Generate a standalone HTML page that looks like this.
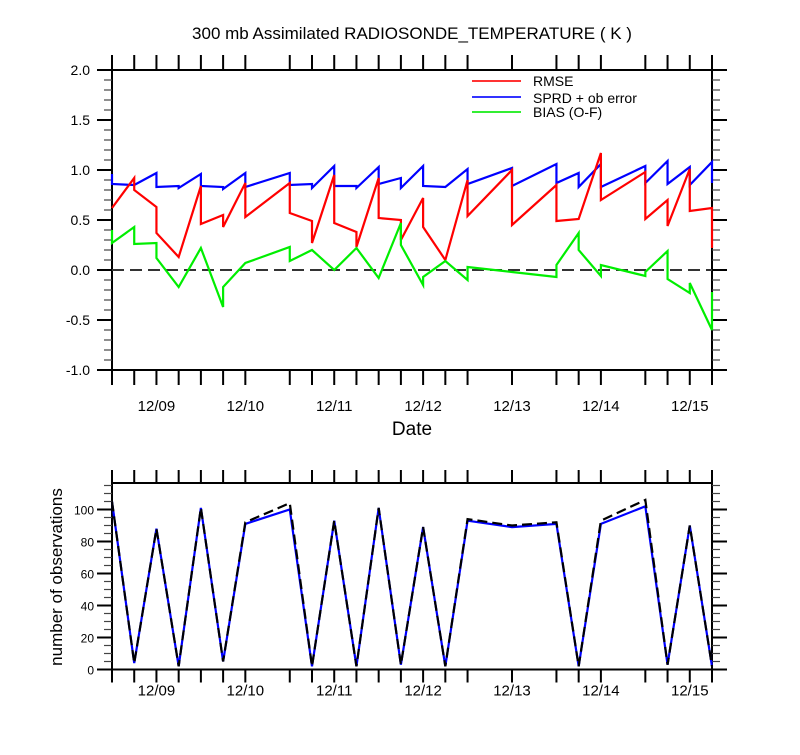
<!DOCTYPE html>
<html><head><meta charset="utf-8"><style>
body{margin:0;background:#fff}
svg text{font-family:"Liberation Sans",Arial,sans-serif;fill:#000}
</style></head><body>
<svg id="s" width="800" height="750" xmlns="http://www.w3.org/2000/svg">
<text x="412" y="39" font-size="17" text-anchor="middle">300 mb Assimilated RADIOSONDE_TEMPERATURE ( K )</text>
<text x="412" y="435" font-size="19" text-anchor="middle">Date</text>
<text transform="translate(62,577) rotate(-90)" font-size="17" text-anchor="middle">number of observations</text>
<g>
<line x1="472" y1="81" x2="521" y2="81" stroke="#f33" stroke-width="2"/><text x="533" y="86" font-size="14">RMSE</text>
<line x1="472" y1="97" x2="521" y2="97" stroke="#33f" stroke-width="2"/><text x="533" y="103" font-size="14">SPRD + ob error</text>
<line x1="472" y1="112" x2="521" y2="112" stroke="#3e3" stroke-width="2"/><text x="533" y="117" font-size="14">BIAS (O-F)</text>
</g>
</svg>
<script>
// hours since 12/08 00Z; duplicated times mark vertical jumps
const rmseT=[12,18,18,24,24,30,36,36,42,42,48,48,60,60,66,66,72,72,78,78,84,84,90,90,96,96,102,108,108,120,120,132,132,138,144,144,156,156,162,162,168,168,174,174];
const rmseV=[0.62,0.92,0.8,0.63,0.37,0.13,0.84,0.46,0.55,0.43,0.87,0.53,0.87,0.57,0.49,0.27,0.95,0.47,0.38,0.23,0.92,0.52,0.5,0.3,0.72,0.43,0.1,0.9,0.54,1.0,0.45,0.85,0.49,0.51,1.17,0.7,0.98,0.51,0.7,0.44,1.01,0.59,0.62,0.22];
const sprdT=[12,12,18,24,24,30,30,36,36,42,42,48,48,60,60,66,66,72,72,78,78,84,84,90,90,96,96,102,108,108,120,120,132,132,138,138,144,144,156,156,162,162,168,168,174,174];
const sprdV=[0.96,0.86,0.85,0.97,0.83,0.84,0.82,0.96,0.84,0.83,0.81,0.97,0.83,0.97,0.85,0.86,0.82,1.04,0.84,0.84,0.82,1.03,0.86,0.92,0.82,1.04,0.84,0.83,1.01,0.86,1.02,0.84,1.06,0.87,0.97,0.83,1.06,0.83,1.04,0.87,1.09,0.86,1.03,0.85,1.08,0.87];
const biasT=[12,12,18,18,24,24,30,36,42,42,48,60,60,66,72,78,84,90,90,96,96,102,108,108,120,132,132,138,138,144,144,156,156,162,162,168,168,174,174];
const biasV=[0.4,0.27,0.43,0.26,0.27,0.12,-0.17,0.22,-0.37,-0.17,0.07,0.23,0.09,0.2,0.0,0.22,-0.08,0.47,0.25,-0.15,-0.07,0.09,-0.1,0.03,-0.02,-0.07,0.05,0.37,0.2,-0.06,0.05,-0.06,-0.02,0.19,-0.09,-0.23,-0.13,-0.6,-0.22];
const obsT=[12,18,24,30,36,42,48,60,66,72,78,84,90,96,102,108,120,132,138,144,156,162,168,174];
const obsUsed=[105,4,88,2,101,5,91,100,2,93,2,101,3,89,2,93,89,91,2,91,102,3,90,2];
const obsTotal=[105,4,88,2,101,5,92,104,2,93,2,101,3,89,2,94,90,92,2,93,106,3,90,2];
const topTicks=[2.0,1.5,1.0,0.5,0.0,-0.5,-1.0];
const topTickLabels=["2.0","1.5","1.0","0.5","0.0","-0.5","-1.0"];
const botTicks=[0,20,40,60,80,100];
const dateHours=[24,48,72,96,120,144,168];
const dateLabels=["12/09","12/10","12/11","12/12","12/13","12/14","12/15"];

const svg=document.getElementById('s');const NS="http://www.w3.org/2000/svg";
const X0=112,X1=712,H0=12,H1=174;
const xs=h=>X0+(h-H0)*(X1-X0)/(H1-H0);
const yT=v=>70+(2-v)*100;
const yB=v=>669.5-v*1.6;
function mk(tag,attrs){const e=document.createElementNS(NS,tag);for(const k in attrs)e.setAttribute(k,attrs[k]);svg.appendChild(e);return e;}
function line(x1,y1,x2,y2,w,c){return mk('line',{x1,y1,x2,y2,stroke:c||'#000','stroke-width':w||1.5});}
function axes(top,bot,yfun,minor,majorVals,labels,fs,tlen,lblOff,lblX){
  const ticks=[...new Set(obsT)];
  const r=mk('rect',{x:X0,y:top,width:X1-X0,height:bot-top,fill:'none',stroke:'#000','stroke-width':2});
  
  
  ticks.forEach(h=>{line(xs(h),top,xs(h),top-tlen,2);line(xs(h),bot,xs(h),bot+tlen,2);});
  minor.forEach(v=>{const y=yfun(v);line(X0,y,X0-8,y,1.2,'#444');line(X1,y,X1+8,y,1.2,'#444');});
  majorVals.forEach((v,i)=>{const y=yfun(v);line(X0,y,X0-15,y,2);line(X1,y,X1+15,y,2);
    const t=mk('text',{x:X0-lblX,y:y+5,'font-size':fs,'text-anchor':'end'});t.textContent=labels[i];
    
    });
  dateHours.forEach((h,i)=>{const t=mk('text',{x:xs(h),y:bot+lblOff,'font-size':15,'text-anchor':'middle'});t.textContent=dateLabels[i];
    
    });
}
const minT=[];for(let v=-1;v<=2.001;v+=0.1)minT.push(+v.toFixed(1));
axes(70,370,yT,minT,topTicks,topTickLabels,14,15,41,22);
const minB=[];for(let v=0;v<=115;v+=5)minB.push(v);
axes(483,669.5,yB,minB,botTicks,botTicks.map(String),12,13,26,18);
const z=line(X0,yT(0),X1,yT(0),2,'#333');z.setAttribute('stroke-dasharray','12 6');


function series(T,V,yf,color,name,dash){
  const p=mk('polyline',{points:T.map((h,i)=>xs(h)+','+yf(V[i])).join(' '),fill:'none',stroke:color,'stroke-width':2.2,'stroke-linejoin':'miter'});
  if(dash)p.setAttribute('stroke-dasharray',dash);
  
  
}
series(sprdT,sprdV,yT,'#00f','sprd-line');
series(rmseT,rmseV,yT,'#f00','rmse-line');
series(biasT,biasV,yT,'#0e0','bias-line');
series(obsT,obsUsed,yB,'#00f','obs-used-line');
series(obsT,obsTotal,yB,'#000','obs-total-line','10 5');
</script>
</body></html>
